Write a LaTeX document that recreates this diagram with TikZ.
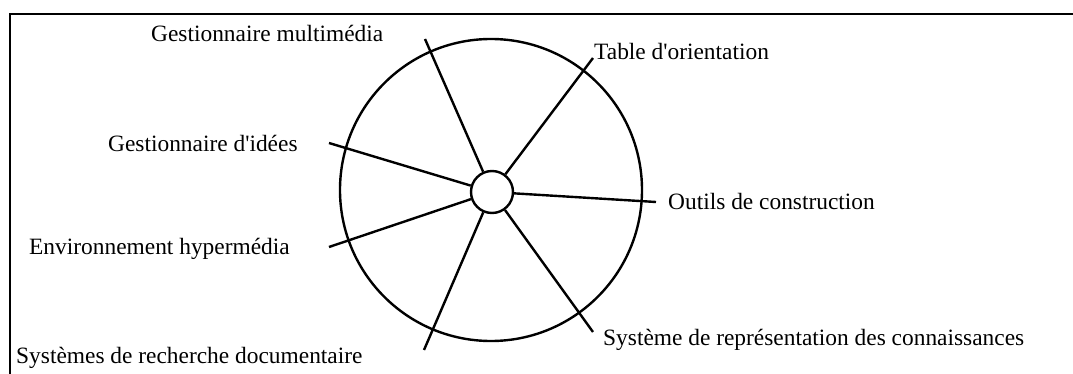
\documentclass[tikz,border=0pt]{standalone}
\usepackage{fontspec}
\setmainfont{Liberation Serif}

\begin{document}
\begin{tikzpicture}[
  x=0.5pt, y=-0.5pt,
  line width=1.2pt,
  wheel/.style={circle, draw, minimum size=151pt, inner sep=0pt},
  hub/.style={circle, draw, fill=white, minimum size=21pt, inner sep=0pt},
  tool/.style={anchor=base west, inner sep=0pt, font=\fontsize{11.7}{14}\selectfont}
]
\useasboundingbox (0,0) rectangle (1073,374);
\draw (10,374) -- (10,14) -- (1073,14);

\node[wheel] (wheel) at (491,190) {};

\node[tool] (multi) at (150,42) {Gestionnaire multimédia};
\node[tool] (idees) at (107,152) {Gestionnaire d\textquotesingle idées};
\node[tool] (hyper) at (28,255) {Environnement hypermédia};
\node[tool] (recherche) at (15,364) {Systèmes de recherche documentaire};
\node[tool] (orient) at (593,60) {Table d\textquotesingle orientation};
\node[tool] (constr) at (667,210) {Outils de construction};
\node[tool] (repres) at (602,345) {Système de représentation des connaissances};

\coordinate (multi-end) at (425,39);
\coordinate (idees-end) at (329,143);
\coordinate (hyper-end) at (329,247);
\coordinate (recherche-end) at (424,350);
\coordinate (orient-end) at (593,58);
\coordinate (constr-end) at (656,202);
\coordinate (repres-end) at (593,332);

\node[hub] (hub) at (492,192) {};

\draw (hub) -- (multi-end);
\draw (hub) -- (idees-end);
\draw (hub) -- (hyper-end);
\draw (hub) -- (recherche-end);
\draw (hub) -- (orient-end);
\draw (hub) -- (constr-end);
\draw (hub) -- (repres-end);
\end{tikzpicture}
\end{document}
